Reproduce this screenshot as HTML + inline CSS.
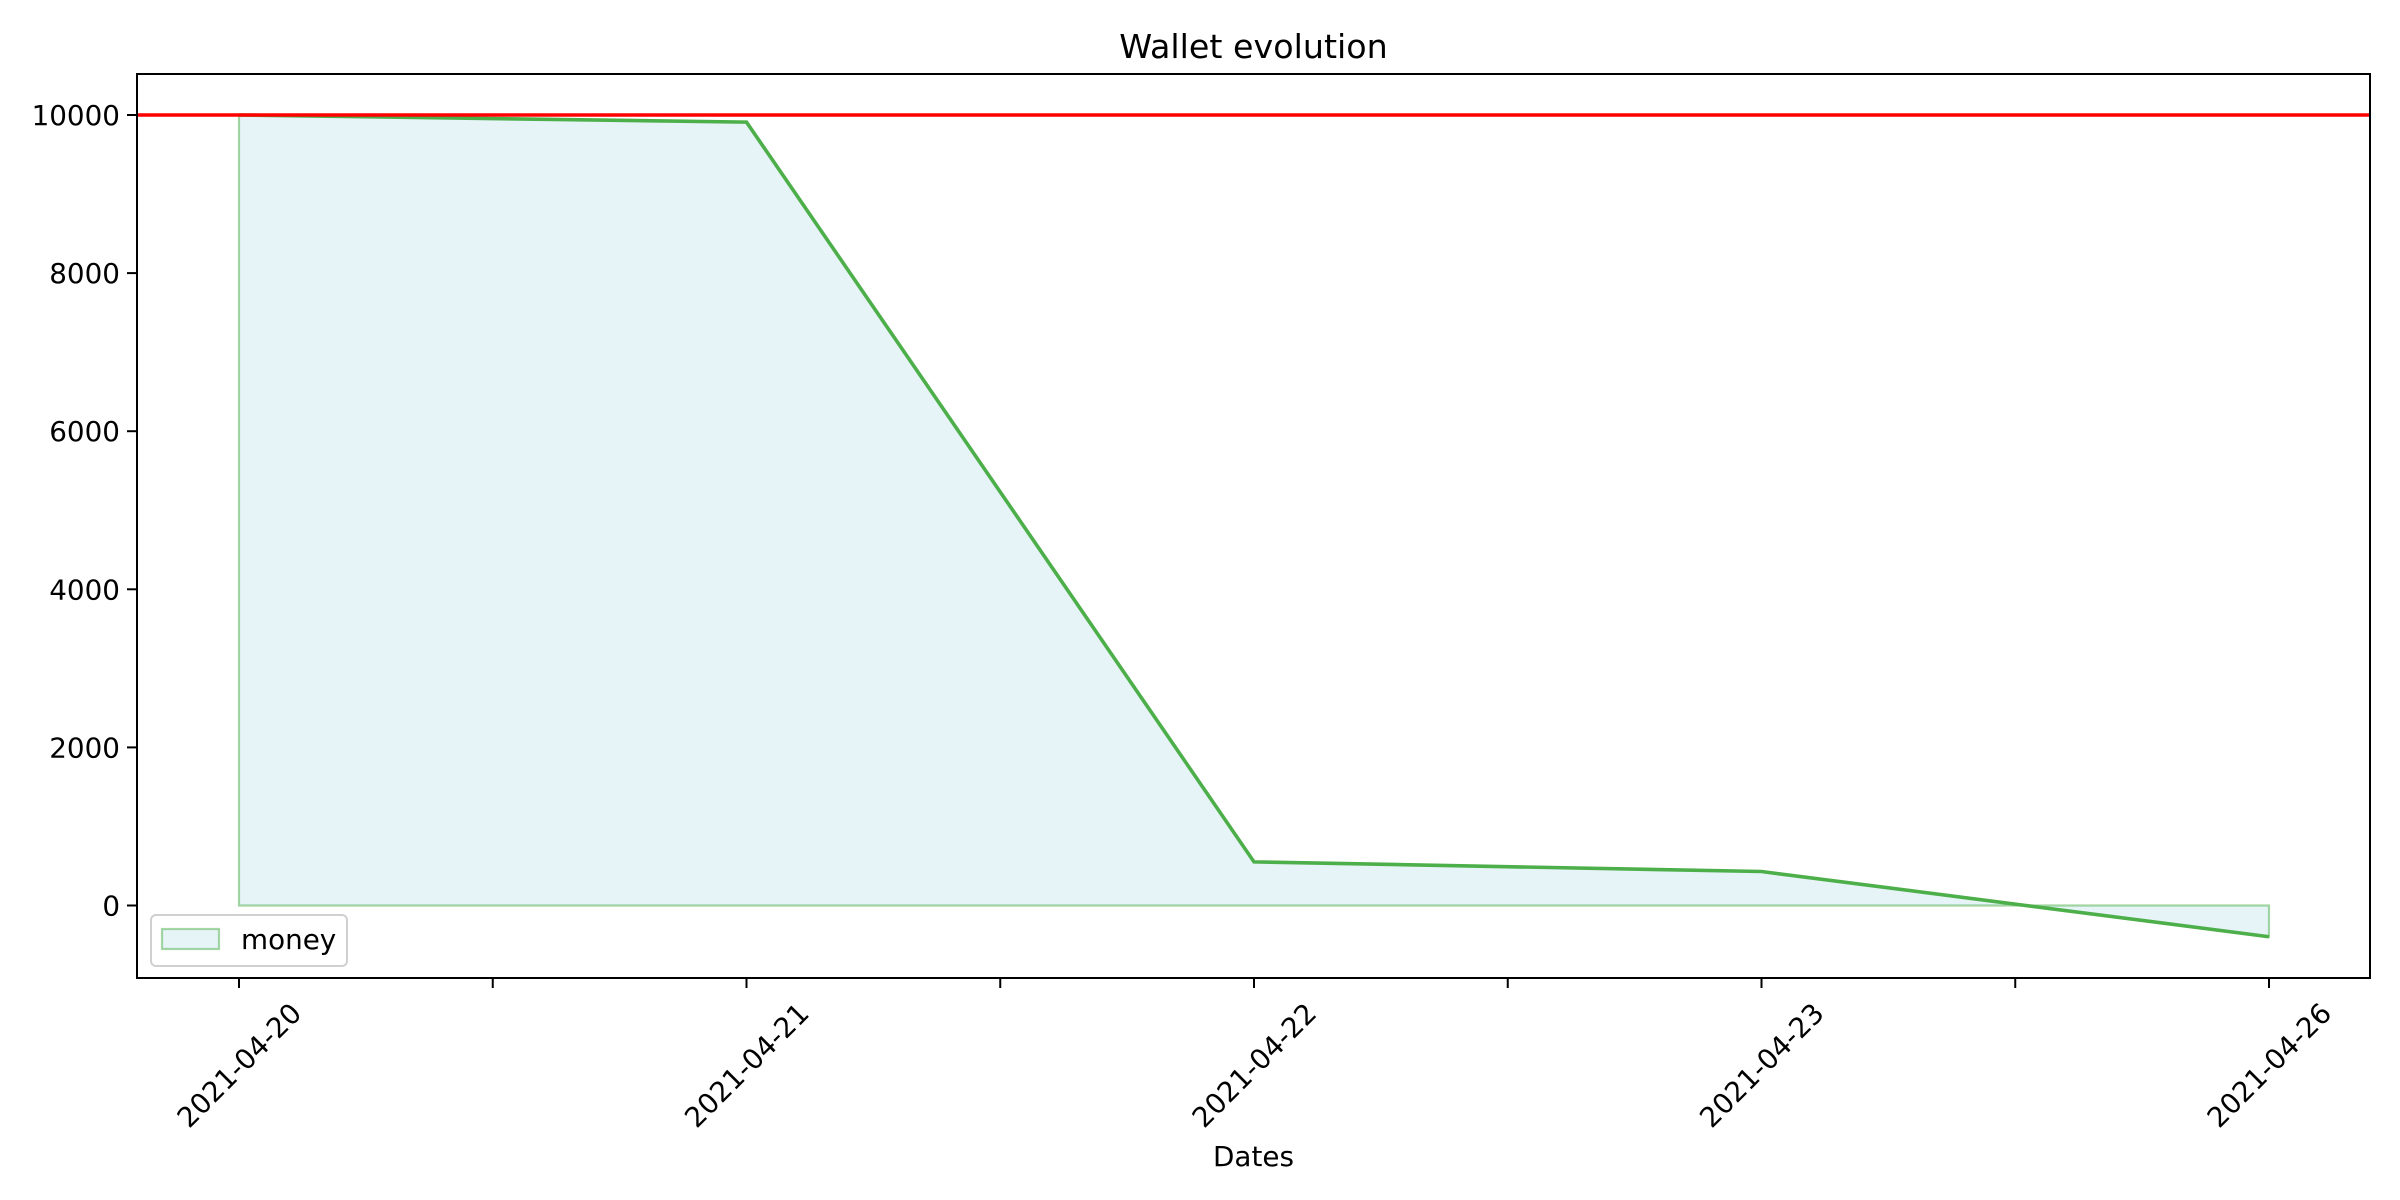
<!DOCTYPE html>
<html><head><meta charset="utf-8"><style>
html,body{margin:0;padding:0;background:#fff;}
svg{display:block;font-family:"DejaVu Sans","Liberation Sans",sans-serif;}
</style></head><body>
<svg id="chart" width="2400" height="1200" viewBox="0 0 2400 1200">
<rect width="2400" height="1200" fill="#fff"/>
<g id="plot"></g>
</svg>
<script>
const categories = ["2021-04-20","2021-04-21","2021-04-22","2021-04-23","2021-04-26"];
const moneyValues = [10000, 9910, 552, 430, -395];
const referenceValue = [10000];
const yTickValues = [0, 2000, 4000, 6000, 8000, 10000];

const L=137, R=2370, T=74, B=978;
const x0=239, xStep=507.5;
function xs(i){return x0+i*xStep;}
const yZero=905.5, yPer=158.1/2000;
function ys(v){return yZero - v*yPer;}
const NS="http://www.w3.org/2000/svg";
const g=document.getElementById('plot');
function mk(tag,attrs,parent){const e=document.createElementNS(NS,tag);for(const k in attrs)e.setAttribute(k,attrs[k]);(parent||g).appendChild(e);return e;}
const FS=27.8;

let fp=`M${xs(0)},${ys(0)} `;
moneyValues.forEach((v,i)=>fp+=`L${xs(i)},${ys(v)} `);
fp+=`L${xs(moneyValues.length-1)},${ys(0)} Z`;
const fill=mk('path',{d:fp,fill:'#add8e6','fill-opacity':'0.3',stroke:'#4daf4a','stroke-opacity':'0.5','stroke-width':'2.2'});



const line=mk('polyline',{points:moneyValues.map((v,i)=>`${xs(i)},${ys(v)}`).join(' '),fill:'none',stroke:'#4daf4a','stroke-width':'3.6'});



const ref=mk('line',{x1:L,x2:R,y1:ys(referenceValue[0]),y2:ys(referenceValue[0]),stroke:'#ff0000','stroke-width':'3.6'});



const fr=mk('rect',{x:L,y:T,width:R-L,height:B-T,fill:'none',stroke:'#000','stroke-width':'2'});



yTickValues.forEach(v=>{
  const y=ys(v);
  mk('line',{x1:L-10,x2:L,y1:y,y2:y,stroke:'#000','stroke-width':'2'});
  const t=mk('text',{x:L-17,y:y+10,'text-anchor':'end','font-size':FS});
  t.textContent=v;
  
  
});
for(let i=0;i<categories.length*2-1;i++){
  const x=x0+i*xStep/2;
  mk('line',{x1:x,x2:x,y1:B,y2:B+10,stroke:'#000','stroke-width':'2'});
}
categories.forEach((c,i)=>{
  const x=xs(i), y=1065;
  const t=mk('text',{x:x,y:y+10,'text-anchor':'middle','font-size':FS,transform:`rotate(-45 ${x} ${y})`});
  t.textContent=c;
  
  
});

const title=mk('text',{x:(L+R)/2,y:58,'text-anchor':'middle','font-size':'33.3'});
title.textContent='Wallet evolution';


const xl=mk('text',{x:(L+R)/2,y:1166,'text-anchor':'middle','font-size':FS});
xl.textContent='Dates';



const lg=mk('g',{});


mk('rect',{x:151,y:915,width:196,height:51,rx:5,fill:'#fff','fill-opacity':'0.8',stroke:'#d0d0d0','stroke-width':'2'},lg);
mk('rect',{x:162,y:929,width:57,height:20,fill:'#add8e6','fill-opacity':'0.3',stroke:'#4daf4a','stroke-opacity':'0.5','stroke-width':'2.2'},lg);
const lt=mk('text',{x:241,y:949,'font-size':FS},lg);
lt.textContent='money';


</script>
</body></html>
